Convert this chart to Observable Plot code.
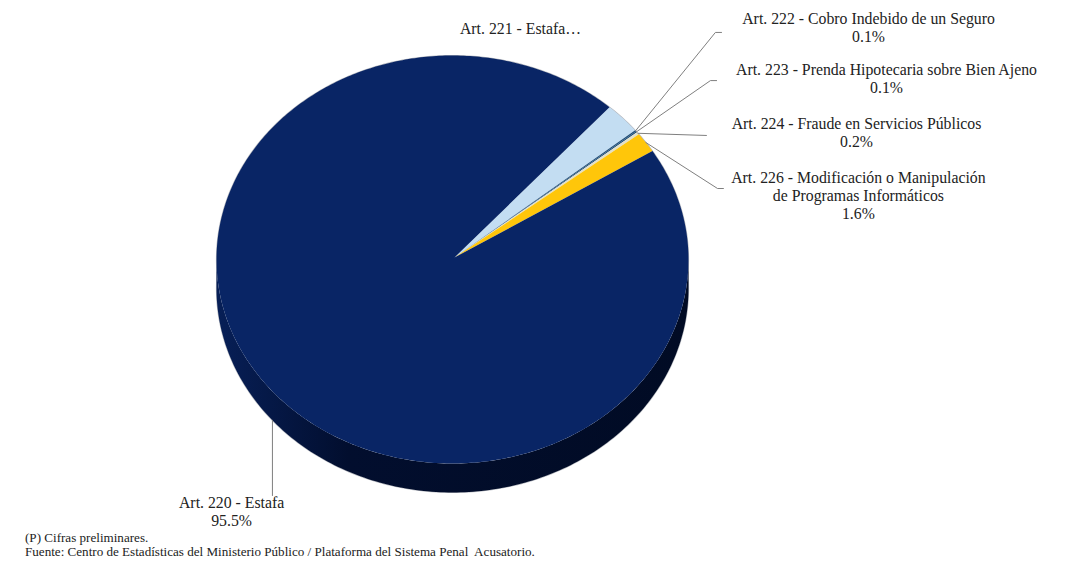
<!DOCTYPE html>
<html lang="es">
<head>
<meta charset="utf-8">
<script src="https://cdn.jsdelivr.net/npm/d3@7"></script>
<script src="https://cdn.jsdelivr.net/npm/@observablehq/plot@0.6"></script>
<style>
  html, body { margin: 0; padding: 0; background: #fff; }
  #chart svg { display: block; }
  #caption { font: 13.1px/14px "Liberation Serif", serif; color: #222; padding: 1px 0 0 25px; white-space: pre; }
</style>
</head>
<body>
<div id="chart"></div>
<div id="caption"></div>
<script>
// Data
const categories = [
  "Art. 220 - Estafa",
  "Art. 221 - Estafa…",
  "Art. 222 - Cobro Indebido de un Seguro",
  "Art. 223 - Prenda Hipotecaria sobre Bien Ajeno",
  "Art. 224 - Fraude en Servicios Públicos",
  "Art. 226 - Modificación o Manipulación\nde Programas Informáticos"
];
const shares = [95.5, 2.5, 0.1, 0.1, 0.2, 1.6];
const showShare = [true, false, true, true, true, true];
const captionLines = [
  "(P) Cifras preliminares.",
  "Fuente: Centro de Estadísticas del Ministerio Público / Plataforma del Sistema Penal  Acusatorio."
];

// Drawing order (clockwise from the top of the pie): 221, 222, 223, 224, 226, 220
const sliceOrder = [1, 2, 3, 4, 5, 0];
const sliceColors = ["#092565", "#c3ddf2", "#1f4e79", "#1f4e79", "#e2dfc8", "#ffc60a"];
const startAngle = 41.7;          // degrees clockwise from top
const sideDepth = 0.142;          // height of the pie's side, in y-scale units
const apex = [0.0085, 0.01];      // the tilted pie's tip sits slightly off the ellipse centre

// Where each leader line leaves the pie and bends, in the pie's unit coordinates
const leaderPaths = [
  [[-0.763, -0.788], [-0.763, -1.157]],
  null,
  ["rim", [1.114, 1.113], [1.140, 1.113]],
  ["rim", [1.093, 0.877], [1.119, 0.877]],
  ["rim", [1.076, 0.608]],
  ["rim", [1.123, 0.348], [1.148, 0.348]]
];
const labelAnchors = [
  [-0.936, -1.236],
  [0.288, 1.134],
  [1.763, 1.139],
  [1.839, 0.889],
  [1.712, 0.625],
  [1.720, 0.316]
];

const rad = d => d * Math.PI / 180;
const rim = (deg, k = 0) => ({x: Math.sin(rad(deg)), y: Math.cos(rad(deg)) - k});

// Slice boundaries from the values
let acc = startAngle;
const spans = new Map();
for (const i of sliceOrder) {
  spans.set(i, [acc, acc + shares[i] * 3.6]);
  acc += shares[i] * 3.6;
}

const slicePts = [];
for (const i of sliceOrder) {
  const [a0, a1] = spans.get(i);
  const n = Math.max(2, Math.ceil((a1 - a0) / 0.75));
  slicePts.push({name: categories[i], x: apex[0], y: apex[1]});
  for (let k = 0; k <= n; ++k) {
    slicePts.push({name: categories[i], ...rim(a0 + (a1 - a0) * k / n)});
  }
}

const sideBand = [
  ...d3.range(90, 271, 1).map(a => rim(a)),
  ...d3.range(270, 89, -1).map(a => rim(a, sideDepth))
];
const topHalo = d3.range(-95, 96, 1).map(a => rim(a));
const bottomHalo = d3.range(85, 276, 1).map(a => rim(a, sideDepth));

const leaders = [];
categories.forEach((name, i) => {
  const path = leaderPaths[i];
  if (!path) return;
  const [a0, a1] = spans.get(i);
  path.forEach(p => {
    const q = p === "rim" ? rim((a0 + a1) / 2) : {x: p[0], y: p[1]};
    leaders.push({name, ...q});
  });
});

const labels = categories.map((name, i) => ({
  text: showShare[i] ? `${name}\n${shares[i].toFixed(1)}%` : name,
  x: labelAnchors[i][0],
  y: labelAnchors[i][1]
}));

const gradient = () => {
  const svgNS = "http://www.w3.org/2000/svg";
  const defs = document.createElementNS(svgNS, "defs");
  defs.innerHTML = `<linearGradient id="side" x1="0" x2="1" y1="0" y2="0">
    <stop offset="0" stop-color="#071f57"/><stop offset="0.28" stop-color="#020e2e"/>
    <stop offset="1" stop-color="#010b24"/></linearGradient>`;
  return defs;
};

const chart = Plot.plot({
  width: 1092,
  height: 530,
  margin: 0,
  x: {domain: [-1, 1], range: [216, 688], axis: null},
  y: {domain: [-1, 1], range: [463, 55], axis: null},
  color: {domain: categories, range: sliceColors},
  style: {background: "transparent"},
  marks: [
    gradient,
    // faint rim on the upper edge and under the side
    Plot.line(topHalo, {x: "x", y: "y", stroke: "#b5b8bf", strokeWidth: 1.2}),
    Plot.line(bottomHalo, {x: "x", y: "y", stroke: "#b5b8bf", strokeWidth: 1.2}),
    // side of the pie
    Plot.line(sideBand, {x: "x", y: "y", fill: "url(#side)", stroke: "none"}),
    // top face
    Plot.line(slicePts, {x: "x", y: "y", z: "name", fill: "name", stroke: "none"}),
    // leader lines
    Plot.line(leaders, {x: "x", y: "y", z: "name", stroke: "#7f7f7f", strokeWidth: 1}),
    // labels
    Plot.text(labels, {
      x: "x", y: "y", text: "text",
      fontFamily: "Liberation Serif",
      fontSize: 15.8,
      lineHeight: 1.14,
      fill: "#222"
    })
  ]
});
document.getElementById("chart").append(chart);
document.getElementById("caption").textContent = captionLines.join("\n");
</script>
</body>
</html>
